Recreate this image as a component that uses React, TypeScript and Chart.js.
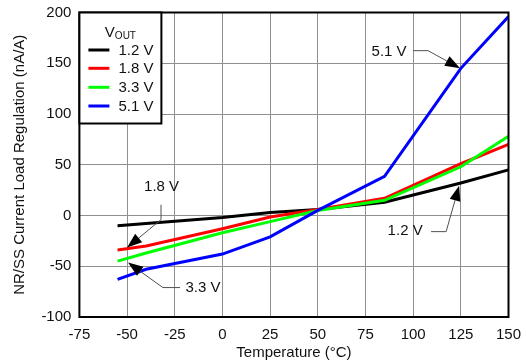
import React, { useEffect, useRef } from "react";
import { Chart, registerables } from "chart.js";

Chart.register(...registerables);

// ---- data ----
const temperatures = [-55, -40, 0, 25, 50, 85, 125, 150];
const vout12 = [-10, -8, -2, 3, 6, 13, 32, 45];
const vout18 = [-34, -30, -13, -1.5, 6, 17, 51, 70];
const vout33 = [-45, -37, -17, -6, 5, 15, 48, 78];
const vout51 = [-63, -53, -38, -21, 5, 38.5, 145, 196];

const seriesLabels = ["1.2 V", "1.8 V", "3.3 V", "5.1 V"];
const seriesValues = [vout12, vout18, vout33, vout51];
const seriesColors = ["#000000", "#ff0000", "#00ff00", "#0000ff"];

const xMin = -75;
const xMax = 150;
const xStep = 25;
const yMin = -100;
const yMax = 200;
const yStep = 50;

const xTitle = "Temperature (°C)";
const yTitle = "NR/SS Current Load Regulation (nA/A)";
const legendTitleMain = "V";
const legendTitleSub = "OUT";

// callouts in data coordinates (temperature, value)
const callouts = [
  { text: "5.1 V", at: [87.4, 161.6], path: [[99.9, 162.4], [107.8, 162.4], [124.6, 145.1]] },
  { text: "1.8 V", at: [-31.9, 28.6], path: [[-32.2, 10.6], [-32.2, -4.1], [-50.0, -31.6]] },
  { text: "3.3 V", at: [-10.2, -71.3], path: [[-22.2, -71.0], [-31.2, -71.0], [-49.5, -46.4]] },
  { text: "1.2 V", at: [95.8, -15.6], path: [[109.4, -15.9], [117.3, -15.9], [124.1, 29.3]] },
];

const FONT = "'Liberation Sans', Arial, Helvetica, sans-serif";

const overlayPlugin = {
  id: "overlay",
  afterDatasetsDraw(chart: any) {
    const { ctx, chartArea: a, scales } = chart;
    const xs = scales.x;
    const ys = scales.y;
    ctx.save();

    // plot border
    ctx.strokeStyle = "#000";
    ctx.lineWidth = 2;
    ctx.strokeRect(a.left, a.top, a.right - a.left, a.bottom - a.top);

    // callouts
    ctx.font = `15px ${FONT}`;
    ctx.textAlign = "center";
    ctx.textBaseline = "middle";
    callouts.forEach((c) => {
      const tx = xs.getPixelForValue(c.at[0]);
      const ty = ys.getPixelForValue(c.at[1]);
      ctx.fillStyle = "#111";
      ctx.fillText(c.text, tx, ty);
      const pts = c.path.map((p) => [xs.getPixelForValue(p[0]), ys.getPixelForValue(p[1])]);
      const n = pts.length;
      const tip = pts[n - 1];
      const prev = pts[n - 2];
      const dx = tip[0] - prev[0];
      const dy = tip[1] - prev[1];
      const len = Math.sqrt(dx * dx + dy * dy);
      const ux = dx / len;
      const uy = dy / len;
      const headLen = 15;
      const halfW = 5.5;
      const bx = tip[0] - ux * headLen;
      const by = tip[1] - uy * headLen;
      ctx.strokeStyle = "#505050";
      ctx.lineWidth = 1;
      ctx.beginPath();
      ctx.moveTo(pts[0][0], pts[0][1]);
      for (let i = 1; i < n - 1; i++) ctx.lineTo(pts[i][0], pts[i][1]);
      ctx.lineTo(bx, by);
      ctx.stroke();
      ctx.fillStyle = "#000";
      ctx.beginPath();
      ctx.moveTo(tip[0], tip[1]);
      ctx.lineTo(bx - uy * halfW, by + ux * halfW);
      ctx.lineTo(bx + uy * halfW, by - ux * halfW);
      ctx.closePath();
      ctx.fill();
    });

    // legend box
    const lx = a.left;
    const ly = a.top;
    const lw = 82;
    const lh = 111;
    ctx.fillStyle = "#fff";
    ctx.fillRect(lx, ly, lw, lh);
    ctx.strokeStyle = "#000";
    ctx.lineWidth = 2;
    ctx.strokeRect(lx, ly, lw, lh);

    // legend title V_OUT
    ctx.fillStyle = "#111";
    ctx.textAlign = "left";
    ctx.textBaseline = "alphabetic";
    ctx.font = `15px ${FONT}`;
    const vW = ctx.measureText(legendTitleMain).width;
    ctx.font = `10px ${FONT}`;
    const subW = ctx.measureText(legendTitleSub).width;
    const startX = lx + lw / 2 - (vW + subW) / 2;
    ctx.font = `15px ${FONT}`;
    ctx.fillText(legendTitleMain, startX, ly + 24.2);
    ctx.font = `10px ${FONT}`;
    ctx.fillText(legendTitleSub, startX + vW, ly + 26);

    // legend items
    const rowY = [37.5, 55.8, 74.8, 93.5];
    ctx.font = `15px ${FONT}`;
    ctx.textBaseline = "middle";
    seriesLabels.forEach((lab, i) => {
      const yy = ly + rowY[i];
      ctx.strokeStyle = seriesColors[i];
      ctx.lineWidth = 3;
      ctx.beginPath();
      ctx.moveTo(lx + 9, yy);
      ctx.lineTo(lx + 30, yy);
      ctx.stroke();
      ctx.fillStyle = "#111";
      ctx.fillText(lab, lx + 39, yy + 1);
    });

    ctx.restore();
  },
};

export default function App() {
  const canvasRef = useRef<HTMLCanvasElement | null>(null);

  useEffect(() => {
    document.body.style.margin = "0";
    const canvas = canvasRef.current;
    if (!canvas) return;
    const datasets = seriesLabels.map((lab, i) => ({
      label: lab,
      data: temperatures.map((t, j) => ({ x: t, y: seriesValues[i][j] })),
      borderColor: seriesColors[i],
      backgroundColor: seriesColors[i],
      borderWidth: 3,
      pointRadius: 0,
      tension: 0,
      fill: false,
      order: seriesLabels.length - i,
    }));

    const chart = new Chart(canvas, {
      type: "line",
      data: { datasets },
      plugins: [overlayPlugin],
      options: {
        animation: false,
        responsive: false,
        devicePixelRatio: 1,
        layout: { padding: { top: 12.5, right: 17.5, left: 0, bottom: 0 } },
        plugins: {
          legend: { display: false },
          tooltip: { enabled: false },
          title: { display: false },
        },
        scales: {
          x: {
            type: "linear",
            min: xMin,
            max: xMax,
            ticks: {
              stepSize: xStep,
              color: "#111",
              font: { family: FONT, size: 15 },
              padding: 9,
              maxRotation: 0,
              autoSkip: false,
            },
            grid: { color: "#8f8f8f", lineWidth: 1, drawTicks: false },
            border: { display: false },
            title: {
              display: true,
              text: xTitle,
              color: "#111",
              font: { family: FONT, size: 15 },
              padding: { top: 0, bottom: 2 },
            },
            afterFit: (s: any) => {
              s.height = 47;
              s.paddingLeft = 0;
              s.paddingRight = 0;
            },
          },
          y: {
            type: "linear",
            min: yMin,
            max: yMax,
            ticks: {
              stepSize: yStep,
              color: "#111",
              font: { family: FONT, size: 15 },
              padding: 8,
              autoSkip: false,
            },
            grid: { color: "#8f8f8f", lineWidth: 1, drawTicks: false },
            border: { display: false },
            title: {
              display: true,
              text: yTitle,
              color: "#111",
              font: { family: FONT, size: 15 },
              padding: { top: 11, bottom: 0 },
            },
            afterFit: (s: any) => {
              s.width = 79.4;
              s.paddingTop = 0;
              s.paddingBottom = 0;
            },
          },
        },
      },
    });
    return () => chart.destroy();
  }, []);

  return (
    <div style={{ width: 526, height: 364 }}>
      <canvas ref={canvasRef} width={526} height={364} style={{ width: 526, height: 364, display: "block" }} />
    </div>
  );
}
